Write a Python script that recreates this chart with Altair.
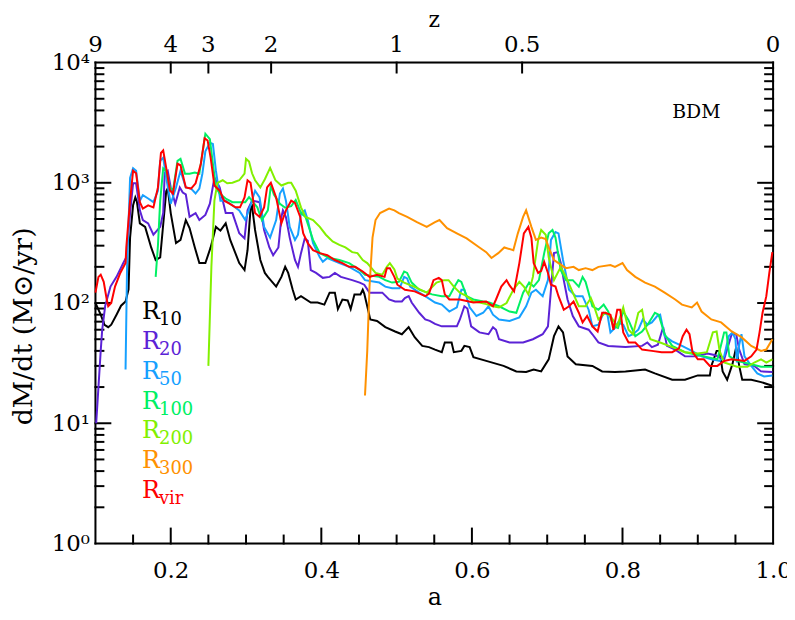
import altair as alt
import pandas as pd

FONT = "DejaVu Serif"

# ---- data: (a, dM/dt) ----
R10 = [(.100,100),(.107,80),(.112,66),(.117,63),(.121,66),(.128,80),(.134,95),(.140,103),(.144,130),(.146,350),
       (.150,650),(.153,755),(.155,700),(.159,460),(.166,430),(.174,290),(.180,228),(.186,240),(.190,450),(.194,850),
       (.196,900),(.200,560),(.207,315),(.213,335),(.220,490),(.225,420),(.232,290),(.238,215),(.246,215),(.253,290),
       (.260,430),(.266,400),(.273,460),(.279,335),(.291,215),(.298,188),(.302,275),(.306,610),(.308,640),(.312,405),
       (.319,228),(.325,178),(.329,165),(.340,137),(.347,165),(.352,200),(.356,178),(.362,129),(.366,107),(.373,114),
       (.386,101),(.395,101),(.404,97),(.411,122),(.418,122),(.422,89),(.428,107),(.435,105),(.439,89),(.444,118),
       (.452,118),(.455,129),(.457,120),(.461,94),(.465,73),(.474,71),(.485,63),(.498,58),(.507,55),(.516,63),
       (.524,52),(.534,44),(.543,43),(.551,41),(.560,39),(.564,47),(.573,47),(.576,39),(.586,40),(.590,44),
       (.597,43),(.602,35.5),(.619,33),(.642,30),(.659,27),(.672,26.7),(.682,28),(.692,27),(.702,34),(.709,53),
       (.715,64),(.721,57),(.727,36),(.738,31),(.760,30),(.773,27),(.790,26.7),(.804,27),(.830,28),(.843,26),
       (.866,23),(.883,23),(.900,25),(.916,25),(.918,30),(.925,40),(.929,40),(.933,27),(.939,23),(.946,31),
       (.951,43),(.955,30),(.959,23),(.971,23),(.984,22),(.999,20.5)]

R20 = [(.101,10),(.104,20),(.107,40),(.109,60),(.113,95),(.120,137),(.128,165),(.137,215),(.141,240),(.146,560),
       (.150,990),(.154,990),(.159,590),(.163,490),(.170,460),(.177,370),(.186,430),(.190,560),(.192,1210),(.196,1260),
       (.200,915),(.206,670),(.212,915),(.216,830),(.220,800),(.225,520),(.233,560),(.238,490),(.246,540),(.252,670),
       (.258,1100),(.265,915),(.273,560),(.282,560),(.291,380),(.298,345),(.302,590),(.308,710),(.318,690),(.324,405),
       (.331,290),(.336,250),(.343,290),(.347,520),(.349,590),(.353,520),(.358,350),(.365,228),(.369,200),(.373,260),
       (.378,345),(.382,330),(.386,188),(.393,178),(.402,162),(.411,165),(.418,178),(.426,165),(.441,155),(.451,148),
       (.457,142),(.464,122),(.481,122),(.490,107),(.498,103),(.507,103),(.511,110),(.516,114),(.520,101),(.530,83),
       (.538,73),(.544,71),(.551,67),(.560,64),(.580,64),(.584,73),(.590,94),(.594,90),(.599,64),(.610,57),
       (.622,55),(.628,63),(.632,60),(.636,50),(.650,47),(.668,47),(.681,50),(.694,55),(.701,64),(.705,129),
       (.709,260),(.714,265),(.718,215),(.722,155),(.727,107),(.734,78),(.742,64),(.755,60),(.760,55),(.768,47),
       (.781,44),(.804,43),(.826,44),(.833,47),(.839,43),(.847,45),(.854,63),(.859,44),(.870,41),(.883,36),
       (.896,36),(.913,38),(.922,37),(.935,34),(.945,55),(.951,55),(.955,41),(.962,31),(.975,30),(.984,27),(.999,26.7)]

R50 = [(.140,28),(.142,200),(.146,1100),(.150,1320),(.154,1260),(.159,710),(.163,790),(.170,740),(.177,690),(.183,860),
       (.186,1520),(.190,1620),(.194,1100),(.200,670),(.207,915),(.213,1260),(.220,915),(.227,895),(.233,815),(.238,895),
       (.242,1190),(.246,1830),(.252,2150),(.256,2100),(.260,1260),(.266,710),(.273,710),(.279,670),(.291,590),(.299,490),
       (.306,650),(.312,860),(.318,755),(.324,430),(.332,350),(.340,490),(.345,815),(.349,895),(.353,710),(.358,430),
       (.365,335),(.369,370),(.373,560),(.378,590),(.382,490),(.389,315),(.398,240),(.402,220),(.408,237),(.424,215),
       (.437,200),(.451,178),(.458,155),(.477,148),(.485,137),(.494,133),(.504,133),(.510,165),(.514,160),(.518,137),
       (.530,122),(.538,114),(.551,101),(.560,97),(.570,85),(.580,92),(.586,129),(.590,129),(.597,92),(.606,78),
       (.615,83),(.622,94),(.628,80),(.636,73),(.650,71),(.663,76),(.672,94),(.679,122),(.685,129),(.694,114),
       (.701,155),(.705,335),(.711,390),(.715,380),(.721,228),(.729,129),(.738,114),(.747,114),(.755,88),(.760,64),
       (.768,66),(.775,83),(.780,80),(.784,57),(.790,62),(.794,69),(.801,66),(.808,53),(.814,55),(.821,60),
       (.827,73),(.833,66),(.839,69),(.846,78),(.850,80),(.856,53),(.866,48),(.879,44),(.892,40),(.905,36),
       (.918,34),(.929,33),(.935,36),(.941,53),(.946,57),(.950,50),(.952,32),(.955,45),(.958,55),(.962,36),
       (.971,30),(.979,26),(.988,24.5),(.999,25)]

R100 = [(.180,165),(.183,300),(.186,710),(.190,1320),(.194,1250),(.199,915),(.203,860),(.209,1520),(.213,1580),(.219,1190),
        (.225,1190),(.232,1220),(.238,1190),(.242,1750),(.246,2560),(.252,2310),(.256,1440),(.260,915),(.265,815),(.273,740),
        (.282,690),(.291,690),(.299,690),(.304,760),(.315,625),(.321,490),(.329,590),(.333,950),(.337,800),(.345,670),
        (.352,620),(.360,640),(.366,720),(.373,560),(.379,520),(.389,335),(.398,260),(.411,237),(.424,228),(.437,215),
        (.451,188),(.458,172),(.477,165),(.485,155),(.494,148),(.503,150),(.510,183),(.514,178),(.520,148),(.530,129),
        (.547,118),(.560,114),(.570,114),(.577,137),(.582,155),(.586,150),(.593,114),(.602,107),(.615,103),(.623,101),
        (.636,94),(.650,85),(.659,83),(.668,122),(.676,148),(.682,137),(.689,155),(.696,260),(.702,380),(.707,405),
        (.711,350),(.718,188),(.725,155),(.734,155),(.742,137),(.747,165),(.751,150),(.760,94),(.768,88),(.775,97),
        (.781,85),(.788,64),(.794,62),(.801,85),(.808,72),(.817,53),(.826,58),(.834,67),(.843,83),(.848,80),
        (.856,55),(.866,44),(.883,39),(.900,37),(.913,35.5),(.926,34),(.931,45),(.935,57),(.938,57),(.942,36),
        (.952,33),(.971,31),(.984,29.5),(.999,29.5)]

R200 = [(.250,30),(.254,200),(.258,710),(.262,1000),(.269,1050),(.275,990),(.282,1000),(.291,1050),(.298,1190),(.300,1580),
        (.304,1500),(.308,1200),(.312,1050),(.319,915),(.325,1070),(.332,1330),(.339,1050),(.347,950),(.356,1000),(.360,1000),
        (.366,860),(.373,625),(.379,520),(.389,490),(.398,430),(.406,370),(.415,325),(.424,305),(.432,290),(.441,265),
        (.448,260),(.455,228),(.461,215),(.472,178),(.481,172),(.487,200),(.491,215),(.497,190),(.501,160),(.510,148),
        (.523,137),(.540,122),(.553,148),(.563,155),(.569,155),(.576,137),(.584,122),(.593,114),(.602,103),(.610,101),
        (.619,98),(.628,94),(.636,92),(.646,100),(.655,129),(.663,150),(.669,137),(.675,118),(.681,165),(.688,335),
        (.692,405),(.698,370),(.702,240),(.709,155),(.718,200),(.725,165),(.734,122),(.742,94),(.751,94),(.758,110),
        (.762,95),(.768,73),(.777,83),(.784,78),(.793,64),(.801,92),(.808,60),(.814,55),(.821,83),(.826,88),
        (.830,64),(.837,50),(.850,47),(.866,43),(.883,39),(.900,38),(.912,39),(.920,57),(.925,58),(.929,40),
        (.935,32),(.952,29.5),(.966,29.5),(.975,32),(.984,34),(.991,32),(.999,34)]

R300 = [(.458,17),(.461,40),(.464,137),(.468,350),(.472,490),(.478,560),(.490,610),(.497,590),(.503,560),(.514,520),
        (.527,470),(.540,430),(.551,470),(.557,490),(.567,420),(.580,380),(.593,345),(.610,290),(.619,265),(.626,237),
        (.635,260),(.643,290),(.655,275),(.661,380),(.668,520),(.672,590),(.679,430),(.685,335),(.692,350),(.698,340),
        (.702,290),(.709,228),(.715,215),(.725,195),(.735,200),(.742,188),(.751,195),(.760,188),(.768,200),(.784,207),
        (.790,200),(.800,215),(.806,188),(.817,165),(.830,148),(.843,137),(.856,122),(.870,107),(.879,97),(.892,92),
        (.899,101),(.905,85),(.918,73),(.931,69),(.945,58),(.958,52),(.971,44),(.984,40),(.991,41),(.999,50)]

RVIR = [(.100,122),(.104,165),(.107,172),(.111,150),(.115,107),(.117,94),(.121,100),(.126,137),(.133,178),(.140,215),
        (.141,290),(.146,710),(.150,1260),(.154,1200),(.159,690),(.163,610),(.170,650),(.177,625),(.183,915),(.187,1770),
        (.190,1860),(.194,1330),(.199,860),(.203,815),(.209,1440),(.213,1400),(.220,915),(.227,895),(.233,990),(.240,1440),
        (.245,2350),(.249,2250),(.253,1620),(.258,950),(.265,860),(.271,710),(.278,670),(.286,625),(.292,625),(.298,755),
        (.302,1050),(.306,1000),(.312,560),(.318,520),(.324,625),(.328,915),(.333,1000),(.340,755),(.347,460),(.353,590),
        (.360,710),(.365,680),(.372,520),(.376,380),(.382,315),(.389,275),(.398,260),(.408,250),(.418,228),(.428,215),
        (.437,200),(.445,200),(.455,183),(.464,165),(.474,172),(.484,165),(.487,195),(.491,195),(.497,165),(.501,142),
        (.511,129),(.524,125),(.538,114),(.543,120),(.549,155),(.556,162),(.560,155),(.564,118),(.570,107),(.584,107),
        (.602,101),(.619,103),(.628,94),(.632,107),(.639,137),(.646,155),(.650,140),(.656,125),(.663,215),(.669,380),
        (.675,430),(.679,350),(.682,215),(.688,178),(.692,185),(.696,220),(.701,178),(.705,142),(.711,137),(.715,114),
        (.722,88),(.729,94),(.735,103),(.742,83),(.747,69),(.753,78),(.760,64),(.767,58),(.773,83),(.777,83),
        (.784,80),(.788,60),(.793,88),(.797,88),(.801,57),(.808,47),(.817,47),(.826,41),(.839,40),(.852,39),
        (.866,39),(.875,42),(.880,53),(.885,60),(.889,55),(.893,39),(.900,34),(.908,34),(.916,30),(.926,30),
        (.935,33),(.945,34),(.962,33),(.971,36),(.978,41),(.982,57),(.986,83),(.991,114),(.995,178),(.999,265)]

series_names = ["R10", "R20", "R50", "R100", "R200", "R300", "Rvir"]
series_colors = ["#000000", "#5b22d6", "#16a0ff", "#00f064", "#82f000", "#ff9100", "#ff0000"]
series_data = [R10, R20, R50, R100, R200, R300, RVIR]

legend_sub = ["10", "20", "50", "100", "200", "300", "vir"]
legend_m = [83.5, 47.2, 26.7, 15.1, 8.55, 4.84, 2.74]
legend_a = 0.162

label_text = ["BDM"]
label_a = [0.866]
label_m = [3860]

A0, A1 = 0.1, 1.0
M0, M1 = 1.0, 10000.0
x_labels = [0.2, 0.4, 0.6, 0.8, 1.0]
x_major = [0.2, 0.4, 0.6, 0.8]
x_minor = [0.15, 0.25, 0.3, 0.35, 0.45, 0.5, 0.55, 0.65, 0.7, 0.75, 0.85, 0.9, 0.95]
z_labels = ["9", "4", "3", "2", "1", "0.5", "0"]
z_values = [9, 4, 3, 2, 1, 0.5, 0]
z_pos = [1.0 / (1.0 + z) for z in z_values]
z_ticks = [1.0 / (1.0 + z) for z in [4, 3, 2, 1, 0.5]]
y_major = [10, 100, 1000]
y_labels = [1, 10, 100, 1000, 10000]
y_minor = [k * d for d in (1, 10, 100, 1000) for k in range(2, 10)]

W, H = 682, 484
MAJ, MIN, ZT = 15, 8, 10          # tick lengths in pixels
DEC_PX = H / 4.0                  # pixels per decade on the y axis
A_PX = (A1 - A0) / W              # a-units per pixel
LABEL_SIZE = 23


def xs():
    return alt.Scale(domain=[A0, A1], nice=False, zero=False)


def ys():
    return alt.Scale(type="log", domain=[M0, M1], nice=False)


x_axis = alt.Axis(values=x_labels, format=".1f", ticks=False, domain=False, grid=False,
                  labelFont=FONT, labelFontSize=LABEL_SIZE, labelColor="black",
                  labelPadding=16, labelFlush=False, labelOverlap=False, title="a", titleFont=FONT,
                  titleFontSize=24, titleFontWeight="normal", titleColor="black", titleY=54,
                  titleBaseline="middle")
y_axis = alt.Axis(values=y_labels, ticks=False, domain=False, grid=False,
                  labelFont=FONT, labelFontSize=LABEL_SIZE, labelColor="black", labelPadding=6,
                  labelOverlap=False,
                  labelExpr="'10' + ['\u2070','\u00b9','\u00b2','\u00b3','\u2074'][round(log(datum.value)/LN10)]",
                  title="dM/dt (M\u2299/yr)", titleFont=FONT, titleFontSize=27, titleFontWeight="normal",
                  titleColor="black", titleAngle=270, titleX=-72, titleY=265, titleBaseline="middle",
                  titleAlign="center")


def X(field="a"):
    return alt.X(f"{field}:Q", scale=xs(), axis=x_axis)


def Y(field="m"):
    return alt.Y(f"{field}:Q", scale=ys(), axis=y_axis)


# all series in one table, in drawing order (R10 first, Rvir last / on top)
frames = []
for name, pts in zip(series_names, series_data):
    d = pd.DataFrame(pts, columns=["a", "m"])
    d["series"] = name
    frames.append(d)
lines_df = pd.concat(frames, ignore_index=True)
lines = alt.Chart(lines_df).mark_line(strokeWidth=2).encode(
    x=X(), y=Y(),
    color=alt.Color("series:N", scale=alt.Scale(domain=series_names, range=series_colors), legend=None),
    detail="series:N",
)

leg = pd.DataFrame({"a": [legend_a] * len(legend_sub), "m": legend_m, "sub": legend_sub,
                    "color": series_colors, "R": ["R"] * len(legend_sub)})
leg_R = alt.Chart(leg).mark_text(font=FONT, fontSize=24, align="left", baseline="middle").encode(
    x=X(), y=Y(), text="R:N", color=alt.Color("color:N", scale=None))
leg_sub = alt.Chart(leg).mark_text(font=FONT, fontSize=18, align="left", baseline="middle",
                                   dx=17, dy=8).encode(
    x=X(), y=Y(), text="sub:N", color=alt.Color("color:N", scale=None))

ann = pd.DataFrame({"a": label_a, "m": label_m, "t": label_text})
bdm = alt.Chart(ann).mark_text(font=FONT, fontSize=19, align="left", baseline="middle",
                               color="black").encode(x=X(), y=Y(), text="t:N")

# top (redshift) axis labels and title as text along the upper edge
ztab = pd.DataFrame({"a": z_pos, "m": [M1] * len(z_pos), "t": z_labels})
zlab = alt.Chart(ztab).mark_text(font=FONT, fontSize=LABEL_SIZE, align="center", baseline="alphabetic",
                                 dy=-11, color="black", clip=False).encode(x=X(), y=Y(), text="t:N")
ztitle_df = pd.DataFrame({"a": [(A0 + A1) / 2], "m": [M1], "t": ["z"]})
ztitle = alt.Chart(ztitle_df).mark_text(font=FONT, fontSize=22, align="center", baseline="alphabetic",
                                        dy=-36, color="black", clip=False).encode(x=X(), y=Y(), text="t:N")

# frame and inward tick marks, drawn as two-point line segments
rows = []


def add_segment(a0, m0, a1, m1):
    tid = len(rows) // 2
    rows.extend([(tid, 0, a0, m0), (tid, 1, a1, m1)])


def add_xticks(values, at_top, length):
    span = 10 ** (length / DEC_PX)
    for v in values:
        if at_top:
            add_segment(v, M1, v, M1 / span)
        else:
            add_segment(v, M0, v, M0 * span)


def add_yticks(values, at_right, length):
    span = length * A_PX
    for v in values:
        if at_right:
            add_segment(A1, v, A1 - span, v)
        else:
            add_segment(A0, v, A0 + span, v)


# plot frame
add_segment(A0, M0, A1, M0)
add_segment(A0, M1, A1, M1)
add_segment(A0, M0, A0, M1)
add_segment(A1, M0, A1, M1)
# ticks
add_xticks(x_major, False, MAJ)
add_xticks(x_minor, False, MIN)
add_xticks(z_ticks, True, ZT)
add_yticks(y_major, False, MAJ)
add_yticks(y_minor, False, MIN)
add_yticks(y_major, True, MAJ)
add_yticks(y_minor, True, MIN)
ticks_df = pd.DataFrame(rows, columns=["tid", "k", "a", "m"])
ticks = alt.Chart(ticks_df).mark_line(color="black", strokeWidth=2, strokeCap="square").encode(
    x=X(), y=Y(), detail="tid:N", order="k:Q")

chart = alt.layer(ticks, lines, leg_R, leg_sub, bdm, zlab, ztitle).properties(
    width=W, height=H,
    autosize=alt.AutoSizeParams(type="none"),
    padding={"left": 88, "top": 53, "right": 14, "bottom": 63},
).configure_view(stroke=None).configure(background="white")

chart.save("out.html", embed_options={"renderer": "svg", "actions": False})
